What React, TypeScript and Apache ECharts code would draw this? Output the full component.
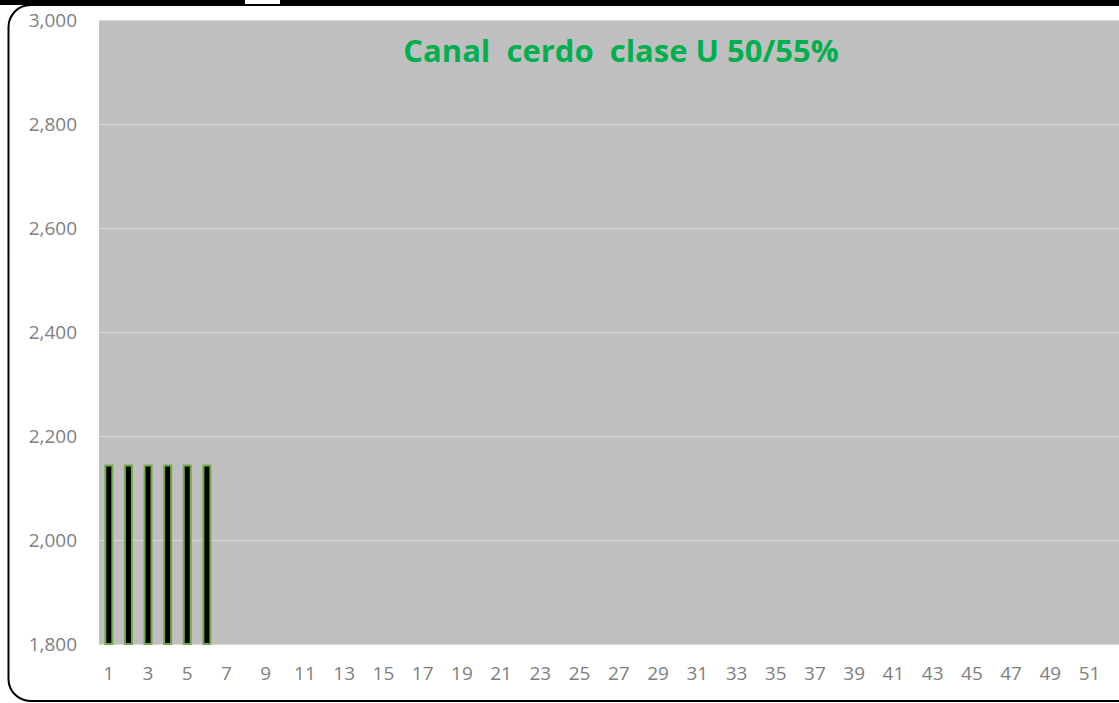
import React, { useEffect, useRef } from "react";
import * as echarts from "echarts";

const categories: string[] = Array.from({ length: 52 }, (_, i) => String(i + 1));
const barValues: (number | null)[] = [2145, 2145, 2145, 2145, 2145, 2145];
const yTicks = { min: 1800, max: 3000, interval: 200 };
const titleText = "Canal  cerdo  clase U 50/55%";

export default function App() {
  const ref = useRef<HTMLDivElement>(null);
  useEffect(() => {
    if (!ref.current) return;
    const chart = echarts.init(ref.current, null, { renderer: "svg" });
    const data = categories.map((_, i) => (i < barValues.length ? barValues[i] : null));
    chart.setOption({
      animation: false,
      backgroundColor: "#ffffff",
      textStyle: { fontFamily: "Open Sans" },
      title: {
        text: titleText,
        left: 616,
        top: 29,
        textAlign: "center",
        textStyle: { color: "#00B050", fontSize: 31, fontWeight: "bold", fontFamily: "Open Sans" },
      },
      grid: { left: 99, top: 20, width: 1030, bottom: 59, show: true, backgroundColor: "#BFBFBF", borderWidth: 0 },
      xAxis: {
        type: "category",
        data: categories,
        axisTick: { show: false },
        axisLine: { show: true, lineStyle: { color: "#D9D9D9", width: 1 } },
        axisLabel: { interval: 1, color: "#7F7F7F", fontSize: 19, margin: 19 },
      },
      yAxis: {
        type: "value",
        min: yTicks.min,
        max: yTicks.max,
        interval: yTicks.interval,
        axisLine: { show: false },
        axisTick: { show: false },
        splitLine: { lineStyle: { color: "#D9D9D9", width: 1 } },
        axisLabel: {
          color: "#7F7F7F",
          fontSize: 19,
          margin: 22,
          formatter: (v: number) => v.toLocaleString("en-US"),
        },
      },
      series: [
        {
          type: "bar",
          data,
          barWidth: 9,
          itemStyle: { color: "#000000", borderColor: "#70AD47", borderWidth: 2 },
        },
      ],
      graphic: [
        { type: "rect", shape: { x: 0, y: 0, width: 1119, height: 5 }, style: { fill: "#000000" }, z: 100 },
        { type: "rect", shape: { x: 245, y: 0, width: 35, height: 4 }, style: { fill: "#ffffff" }, z: 101 },
        {
          type: "rect",
          shape: { x: 8.5, y: 5, width: 1200, height: 696, r: 22 },
          style: { fill: "none", stroke: "#000000", lineWidth: 2 },
          z: 102,
        },
      ],
    });
    return () => chart.dispose();
  }, []);
  return (
    <div
      ref={ref}
      style={{ position: "absolute", left: 0, top: 0, width: 1119, height: 703, overflow: "hidden" }}
    />
  );
}
